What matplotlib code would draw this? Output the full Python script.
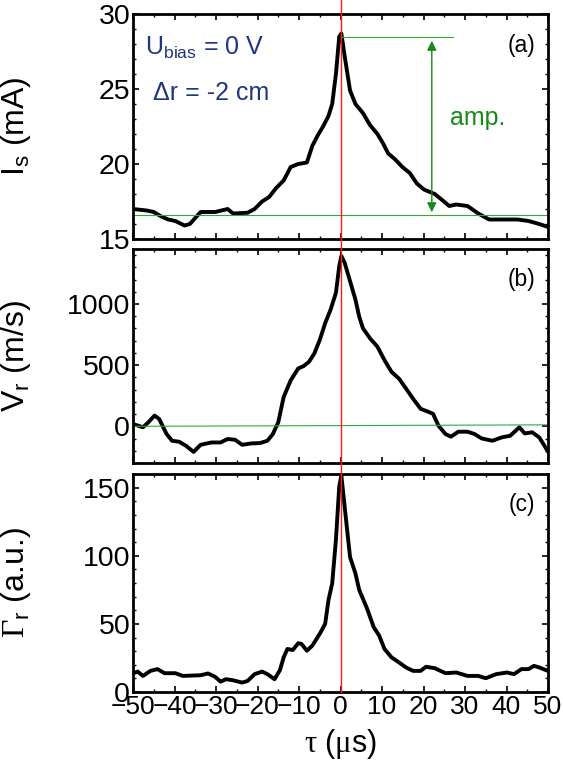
import numpy as np
import matplotlib
matplotlib.use("Agg")
import matplotlib.pyplot as plt
from matplotlib.lines import Line2D
from matplotlib.ticker import MultipleLocator
import matplotlib.transforms as mtransforms

tau_a = [-50, -46.7, -45, -43.2, -41.5, -39.8, -37.6, -36.3, -35, -33.7, -30.2, -27.2, -25.9,
         -22.4, -20.7, -18.9, -17.2, -15.5, -13.7, -12, -10.2, -8.1, -6.8, -5.5, -4.2, -2.9,
         -2.0, -1.1, -0.3, 0.2, 1.0, 2.3, 3.6, 5.4, 7.1, 8.9, 10.2, 11.5, 13.2, 14.9, 16.7,
         18.4, 20.1, 22.7, 24.5, 26.2, 27.9, 30.6, 33.2, 35.8, 39.2, 42.7, 45.3, 47.9, 50]
i_sat = [17.0, 16.9, 16.8, 16.5, 16.3, 16.2, 15.9, 16.0, 16.4, 16.8, 16.8, 17.0, 16.7,
         16.75, 17.0, 17.5, 17.8, 18.4, 18.9, 19.8, 20.0, 20.1, 21.2, 21.9, 22.5, 23.2,
         24.0, 26.0, 28.5, 28.7, 27.2, 24.9, 24.0, 23.4, 22.6, 22.0, 21.4, 20.7, 20.3, 19.8, 19.4,
         18.7, 18.3, 18.0, 17.6, 17.2, 17.3, 17.2, 16.7, 16.3, 16.3, 16.3, 16.2, 16.0, 15.8]

tau_b = [-50, -47.6, -46.3, -44.8, -43.7, -41.9, -40.6, -38.9, -37.2, -35.4, -33.7, -31.1,
         -28.9, -27.2, -25.4, -23.7, -21.5, -19.4, -17.6, -16.3, -15.0, -13.7, -12.0, -10.2,
         -8.9, -7.6, -6.3, -5.0, -3.7, -2.4, -1.1, -0.3, 0.2, 1.0, 2.3, 3.6, 4.5, 5.4, 7.1,
         8.9, 10.6, 12.3, 14.1, 15.8, 17.5, 19.3, 21.0, 22.3, 23.6, 25.3, 26.6, 28.4, 30.6,
         32.3, 34.0, 36.6, 38.8, 40.9, 43.1, 44.4, 46.2, 47.9, 50]
v_r = [19, -8, 33, 88, 60, -63, -118, -126, -160, -209, -151, -132,
       -132, -104, -110, -151, -140, -137, -118, -63, 33, 239, 376, 473,
       492, 527, 596, 706, 843, 953, 1091, 1310, 1393, 1338, 1187, 1036, 898, 802, 720,
       651, 541, 445, 390, 308, 225, 143, 121, 102, 5, -63, -85, -44, -44,
       -63, -99, -118, -91, -77, -8, -58, -49, -91, -206]

tau_c = [-50, -48.9, -47.6, -45.8, -44.1, -42.4, -39.8, -38.0, -33.7, -31.9, -30.2, -28.9,
         -27.6, -25.9, -23.7, -22.4, -20.7, -18.9, -17.6, -15.9, -14.6, -13.7, -12.8, -11.5,
         -10.2, -9.4, -8.1, -6.8, -5.0, -3.7, -2.9, -2.0, -1.1, -0.3, 0.2, 1.0, 2.3, 3.6, 4.5,
         6.3, 8.0, 9.3, 10.6, 12.3, 14.1, 15.8, 17.5, 19.3, 20.6, 22.7, 25.3, 27.9, 30.6, 33.2,
         35.0, 37.5, 40.1, 41.8, 43.6, 45.3, 46.6, 47.9, 50]
gamma_r = [13.6, 15, 11.8, 15.5, 16.8, 13.8, 13.8, 11.8, 12.3, 13.6, 11.1, 7.6,
           9.4, 8.6, 6.9, 8.1, 13.1, 15, 13.1, 9.4, 16, 25.4, 31.6, 30.8,
           35.8, 35.3, 30.3, 34, 42.7, 50, 67.4, 79.7, 111.8, 151, 159, 136, 99, 87, 75,
           62, 47.6, 41.5, 31.6, 25.4, 21.7, 18, 15.5, 15.5, 18.5, 17.5, 13.8, 14.3, 11.8, 11.8,
           10.1, 13.1, 14.3, 13.1, 16.8, 16.8, 19.2, 18, 15.5]

plt.rcParams['font.family'] = ['Liberation Sans', 'DejaVu Sans']
plt.rcParams['mathtext.fontset'] = 'custom'
plt.rcParams['mathtext.rm'] = 'Liberation Sans'
plt.rcParams['mathtext.it'] = 'Liberation Sans:italic'
plt.rcParams['mathtext.tt'] = 'Liberation Serif'

fig = plt.figure(figsize=(5.63, 7.74), dpi=100)
W, H = 563.0, 774.0
left, right = 133, 548
boxes = [(14, 239), (249, 463), (474, 692)]
axes = []
for top, bot in boxes:
    axes.append(fig.add_axes([left / W, 1 - bot / H, (right - left) / W, (bot - top) / H]))
ax1, ax2, ax3 = axes

green = '#168a16'
light_green = '#33aa33'
navy = '#1f3580'

ax1.plot(tau_a, i_sat, color='black', lw=2.8, solid_joinstyle='round')
ax2.plot(tau_b, v_r, color='black', lw=2.8, solid_joinstyle='round')
ax3.plot(tau_c, gamma_r, color='black', lw=2.8, solid_joinstyle='round')

# reference lines
ax1.plot([-50, 50], [16.6, 16.6], color=light_green, lw=0.8)
ax1.plot([0, 27], [28.45, 28.45], color=light_green, lw=0.8)
ax2.plot([-50, 50], [0, 12], color=light_green, lw=0.8)
ax1.annotate('', xy=(22, 28.4), xytext=(22, 16.6),
             arrowprops=dict(arrowstyle='<|-|>', color=green, lw=1, mutation_scale=14))
ax1.text(26.5, 23.1, 'amp.', color=green, fontsize=18, va='center', ha='left')

ax1.text(-47.1, 27.3, r'U$_\mathrm{bias}$ = 0 V', color=navy, fontsize=18)
ax1.text(-45.2, 24.3, 'Δr = -2 cm', color=navy, fontsize=18)

ax1.set_ylim(15, 30)
ax2.set_ylim(-300, 1450)
ax3.set_ylim(0, 160)
ax1.yaxis.set_major_locator(MultipleLocator(5))
ax1.yaxis.set_minor_locator(MultipleLocator(1))
ax2.yaxis.set_major_locator(MultipleLocator(500))
ax2.yaxis.set_minor_locator(MultipleLocator(100))
ax3.yaxis.set_major_locator(MultipleLocator(50))
ax3.yaxis.set_minor_locator(MultipleLocator(10))

for ax, lab in zip(axes, ['(a)', '(b)', '(c)']):
    ax.set_xlim(-50, 50)
    ax.xaxis.set_major_locator(MultipleLocator(10))
    ax.xaxis.set_minor_locator(MultipleLocator(5))
    ax.tick_params(which='both', direction='in', top=True, right=True, pad=2)
    ax.tick_params(axis='y', labelsize=20.5)
    ax.tick_params(axis='x', labelsize=19)
    ax.tick_params(which='major', length=4, width=1.2)
    ax.tick_params(which='minor', length=2.5, width=1)
    for s in ax.spines.values():
        s.set_linewidth(2)
    ax.text(0.969, 0.858, lab, transform=ax.transAxes, ha='right', va='center', fontsize=16.5)
    ax.yaxis.set_label_coords(-0.24, 0.5)

ax1.tick_params(labelbottom=False)
ax2.tick_params(labelbottom=False)

ax1.set_ylabel(r'I$_\mathrm{s}$ (mA)', fontsize=23)
ax2.set_ylabel(r'V$_\mathrm{r}$ (m/s)', fontsize=23)
ax3.set_ylabel(r'$\mathtt{\Gamma}_\mathrm{r}$ (a.u.)', fontsize=23)
ax3.set_xlabel(r'$\mathtt{\tau}$ ($\mathtt{\mu}$s)', fontsize=22, labelpad=6)

# red marker line at tau = 0 through all panels
trans = mtransforms.blended_transform_factory(ax3.transData, fig.transFigure)
fig.add_artist(Line2D([0, 0], [1.0, 1 - 692 / H], transform=trans, color='#ff1a1a', lw=1.0))

fig.savefig('out.png', dpi=100)
